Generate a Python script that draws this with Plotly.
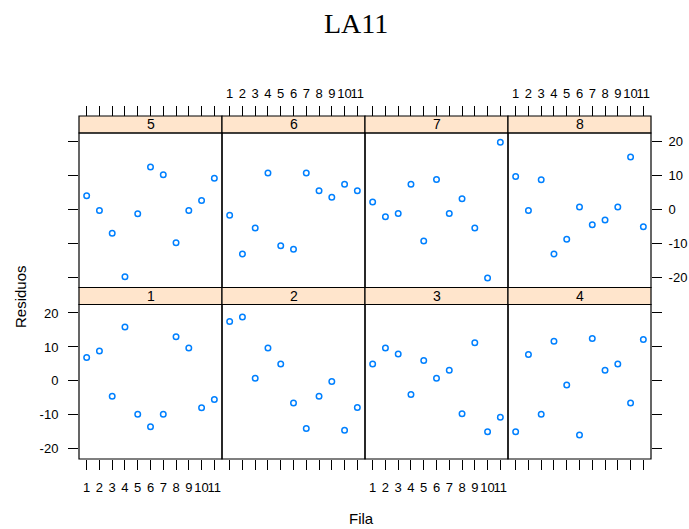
import plotly.graph_objects as go

# Row index (Fila) and axis tick labels
filas = list(range(1, 12))
fila_labels = [str(i) for i in filas]
y_ticks = [-20, -10, 0, 10, 20]
y_tick_labels = ["-20", "-10", "0", "10", "20"]
panel_names = ["1", "2", "3", "4", "5", "6", "7", "8"]

# Residuals per panel
res_1 = [6.9, 8.8, -4.5, 15.9, -9.8, -13.5, -9.8, 13.0, 9.7, -7.9, -5.5]
res_2 = [17.5, 18.8, 0.8, 9.7, 5.0, -6.5, -14.0, -4.5, -0.2, -14.5, -7.8]
res_3 = [5.0, 9.7, 7.9, -4.0, 6.0, 0.8, 3.1, -9.7, 11.2, -15.0, -10.7]
res_4 = [-15.0, 7.8, -9.8, 11.7, -1.2, -15.9, 12.5, 3.1, 5.0, -6.5, 12.2]
res_5 = [4.0, -0.3, -7.0, -19.8, -1.3, 12.5, 10.2, -9.8, -0.3, 2.6, 9.2]
res_6 = [-1.7, -13.1, -5.5, 10.7, -10.7, -11.7, 10.7, 5.5, 3.6, 7.4, 5.5]
res_7 = [2.2, -2.2, -1.2, 7.4, -9.3, 8.8, -1.2, 3.1, -5.5, -20.2, 19.8]
res_8 = [9.7, -0.3, 8.7, -13.1, -8.8, 0.7, -4.5, -3.1, 0.7, 15.4, -5.1]
residuals = [res_1, res_2, res_3, res_4, res_5, res_6, res_7, res_8]

W, H = 689, 529
LEFT, PANEL_W = 79, 143
STRIP_H = 17
ROW_TOP = {"top": (133, 287.5), "bottom": (304.5, 459)}
TICK_FONT = dict(family="Liberation Sans", size=13, color="black")
POINT_COLOR = "#0080ff"
STRIP_FILL = "#ffe5cc"


def fx(px):
    return px / W


def fy(py):
    return 1 - py / H


fig = go.Figure()
layout = dict(
    width=W, height=H, autosize=False,
    margin=dict(l=0, r=0, t=0, b=0),
    paper_bgcolor="white", plot_bgcolor="white",
    showlegend=False,
    shapes=[], annotations=[],
)

for k in range(8):
    idx = k + 1
    sfx = "" if idx == 1 else str(idx)
    row = "bottom" if k < 4 else "top"
    col = k % 4
    top_px, bot_px = ROW_TOP[row]
    plot_h = bot_px - top_px

    fig.add_trace(go.Scatter(
        x=filas, y=residuals[k], mode="markers",
        xaxis="x" + sfx, yaxis="y" + sfx,
        marker=dict(symbol="circle-open", size=5.5, color=POINT_COLOR,
                    line=dict(width=1.5, color=POINT_COLOR)),
        hoverinfo="x+y",
    ))

    xa = dict(
        domain=[fx(LEFT + col * PANEL_W), fx(LEFT + (col + 1) * PANEL_W)],
        range=[0.4, 11.6], tickvals=filas, ticktext=fila_labels,
        tickangle=0,
        ticks="outside", ticklen=10, tickwidth=1, tickcolor="black",
        showgrid=False, zeroline=False, showline=False,
        tickfont=TICK_FONT, fixedrange=True,
    )
    if row == "bottom":
        xa.update(anchor="y" + sfx, side="bottom", ticklabelstandoff=6,
                  showticklabels=(col in (0, 2)))
    else:
        # top-row ticks sit above the strip
        xa.update(anchor="free", position=fy(top_px - STRIP_H), side="top",
                  ticklabelstandoff=3, showticklabels=(col in (1, 3)))

    ya = dict(
        domain=[fy(bot_px), fy(top_px)],
        range=[-23, 22.5], tickvals=y_ticks, ticktext=y_tick_labels,
        tickangle=0,
        showgrid=False, zeroline=False, showline=False,
        tickfont=TICK_FONT, fixedrange=True, anchor="x" + sfx,
    )
    if idx == 1:
        ya.update(side="left", ticks="outside", ticklen=10, tickcolor="black",
                  showticklabels=True, ticklabelstandoff=7)
    elif idx == 5:
        ya.update(side="left", ticks="outside", ticklen=10, tickcolor="black",
                  showticklabels=False)
    elif idx == 8:
        ya.update(side="right", ticks="outside", ticklen=10, tickcolor="black",
                  showticklabels=True, ticklabelstandoff=4)
    elif idx == 4:
        ya.update(side="right", ticks="outside", ticklen=10, tickcolor="black",
                  showticklabels=False)
    else:
        ya.update(ticks="", showticklabels=False)

    layout["xaxis" + sfx] = xa
    layout["yaxis" + sfx] = ya

    strip_top = 1 + STRIP_H / plot_h
    layout["shapes"].append(dict(
        type="rect", xref="x" + sfx + " domain", yref="y" + sfx + " domain",
        x0=0, x1=1, y0=1, y1=strip_top, fillcolor=STRIP_FILL,
        line=dict(color="black", width=1.2), layer="below",
    ))
    layout["shapes"].append(dict(
        type="rect", xref="x" + sfx + " domain", yref="y" + sfx + " domain",
        x0=0, x1=1, y0=0, y1=1, fillcolor="rgba(0,0,0,0)",
        line=dict(color="black", width=1.2), layer="above",
    ))
    layout["annotations"].append(dict(
        text=panel_names[k], xref="x" + sfx + " domain", yref="y" + sfx + " domain",
        x=0.5, y=(1 + strip_top) / 2, showarrow=False,
        xanchor="center", yanchor="middle",
        font=dict(family="Liberation Sans", size=14, color="black"),
    ))

layout["annotations"] += [
    dict(text="LA11", xref="paper", yref="paper", x=fx(356), y=fy(24),
         showarrow=False, xanchor="center", yanchor="middle",
         font=dict(family="Liberation Serif", size=28, color="black")),
    dict(text="Residuos", xref="paper", yref="paper", x=fx(20), y=fy(297),
         showarrow=False, xanchor="center", yanchor="middle", textangle=-90,
         font=dict(family="Liberation Sans", size=15, color="black")),
    dict(text="Fila", xref="paper", yref="paper", x=fx(362), y=fy(518),
         showarrow=False, xanchor="center", yanchor="middle",
         font=dict(family="Liberation Sans", size=15, color="black")),
]

fig.update_layout(**layout)
fig.write_html("out.html")
